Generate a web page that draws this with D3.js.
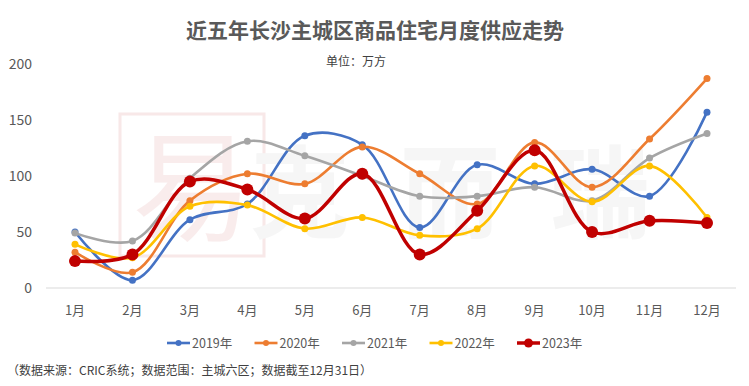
<!DOCTYPE html>
<html>
<head>
<meta charset="utf-8">
<script src="https://cdn.jsdelivr.net/npm/d3@7"></script>
<style>
  body { margin: 0; background: #fff; }
  svg { font-family: "Noto Sans CJK SC", "Noto Sans", sans-serif; }
</style>
</head>
<body>
<svg id="chart" width="749" height="386"></svg>
<script>
// data (unit: 万方)
var months = ['1月', '2月', '3月', '4月', '5月', '6月', '7月', '8月', '9月', '10月', '11月', '12月'];
var years = ['2019年', '2020年', '2021年', '2022年', '2023年'];
var colors = ['#4472c4', '#ed7d31', '#a5a5a5', '#ffc000', '#c00000'];
var yTicks = [0, 50, 100, 150, 200];

var v2019 = [50, 7, 61, 75, 136, 128, 54, 110, 93, 106, 82, 157];
var v2020 = [32, 14, 78, 102, 93, 126, 102, 75, 130, 90, 133, 187];
var v2021 = [49, 42, 98, 131, 118, 100, 82, 82, 90, 78, 116, 138];
var v2022 = [39, 27, 73, 74, 53, 63, 47, 53, 109, 77, 109, 63];
var v2023 = [24, 30, 95, 88, 62, 102, 30, 69, 123, 50, 60, 58];

var series = [v2019, v2020, v2021, v2022, v2023];

var svg = d3.select('#chart');

var x = d3.scalePoint().domain(months).range([75, 707]);
var y = d3.scaleLinear().domain([0, 200]).range([288, 64]);

// faint watermark
var wm = svg.append('g').attr('opacity', 0.5);
wm.append('rect')
    .attr('x', 120).attr('y', 114).attr('width', 144).attr('height', 142)
    .attr('fill', 'none').attr('stroke', '#f2d3d3').attr('stroke-width', 3);
wm.append('text')
    .attr('x', 192).attr('y', 232).attr('text-anchor', 'middle')
    .attr('font-size', 120).attr('fill', '#f5dada')
    .text('易');
['克', '而', '瑞'].forEach(function (c, i) {
    wm.append('text')
        .attr('x', 300 + i * 150).attr('y', 230).attr('text-anchor', 'middle')
        .attr('font-size', 100).attr('font-weight', 'bold').attr('fill', '#eeeeee')
        .text(c);
});

// title
svg.append('text')
    .attr('x', 375).attr('y', 38)
    .attr('text-anchor', 'middle')
    .attr('font-size', 21).attr('font-weight', 'bold').attr('fill', '#595959')
    .text('近五年长沙主城区商品住宅月度供应走势');

svg.append('text')
    .attr('x', 356).attr('y', 66)
    .attr('text-anchor', 'middle')
    .attr('font-size', 12).attr('fill', '#404040')
    .text('单位：万方');

// y axis labels
svg.selectAll('.ytick')
    .data(yTicks)
    .enter().append('text')
    .attr('class', 'ytick')
    .attr('x', 32)
    .attr('y', function (d) { return y(d) + 5; })
    .attr('text-anchor', 'end')
    .attr('font-size', 14).attr('fill', '#595959')
    .text(function (d) { return d; });

// baseline
svg.append('line')
    .attr('x1', 46).attr('x2', 736)
    .attr('y1', y(0)).attr('y2', y(0))
    .attr('stroke', '#d9d9d9').attr('stroke-width', 1);

// x labels
svg.selectAll('.xtick')
    .data(months)
    .enter().append('text')
    .attr('class', 'xtick')
    .attr('x', function (d) { return x(d); })
    .attr('y', 315)
    .attr('text-anchor', 'middle')
    .attr('font-size', 13).attr('fill', '#595959')
    .text(function (d) { return d; });

var line = d3.line()
    .x(function (d, i) { return x(months[i]); })
    .y(function (d) { return y(d); })
    .curve(d3.curveCatmullRom.alpha(0.5));

series.forEach(function (vals, k) {
    var big = k === 4;
    var g = svg.append('g');
    g.append('path')
        .datum(vals)
        .attr('d', line)
        .attr('fill', 'none')
        .attr('stroke', colors[k])
        .attr('stroke-width', big ? 3.5 : 2.6)
        .attr('stroke-linecap', 'round');
    g.selectAll('circle')
        .data(vals)
        .enter().append('circle')
        .attr('cx', function (d, i) { return x(months[i]); })
        .attr('cy', function (d) { return y(d); })
        .attr('r', big ? 6 : 3.5)
        .attr('fill', colors[k]);
});

// legend
var legend = svg.append('g');
years.forEach(function (name, k) {
    var lx = 167 + k * 87.5;
    var ly = 343;
    var it = legend.append('g');
    it.append('line')
        .attr('x1', lx).attr('x2', lx + 23)
        .attr('y1', ly).attr('y2', ly)
        .attr('stroke', colors[k]).attr('stroke-width', k === 4 ? 3.5 : 2.6);
    it.append('circle')
        .attr('cx', lx + 11.5).attr('cy', ly)
        .attr('r', k === 4 ? 4.5 : 3)
        .attr('fill', colors[k]);
    it.append('text')
        .attr('x', lx + 25).attr('y', ly + 5)
        .attr('font-size', 12.5).attr('fill', '#595959')
        .text(name);
});

// footnote
svg.append('text')
    .attr('x', 7).attr('y', 375)
    .attr('font-size', 12).attr('fill', '#404040')
    .text('（数据来源：CRIC系统；数据范围：主城六区；数据截至12月31日）');
</script>
</body>
</html>
